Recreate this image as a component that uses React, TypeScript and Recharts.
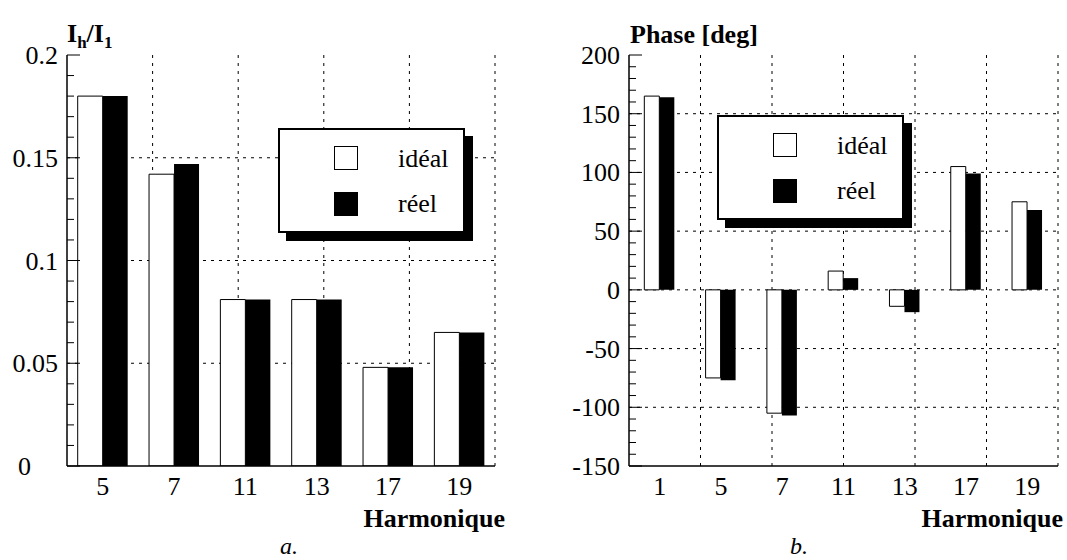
import React from 'react';
import { BarChart, Bar, XAxis, YAxis, CartesianGrid, Legend } from 'recharts';

const FONT = '"Liberation Serif", "Times New Roman", serif';

// a. amplitude des harmoniques
const harmA = ['5', '7', '11', '13', '17', '19'];
const idealA = [0.18, 0.142, 0.081, 0.081, 0.048, 0.065];
const reelA = [0.18, 0.147, 0.081, 0.081, 0.048, 0.065];
const yTicksA = [0, 0.05, 0.1, 0.15, 0.2];
const yLabelsA = ['0', '0.05', '0.1', '0.15', '0.2'];

// b. phase des harmoniques
const harmB = ['1', '5', '7', '11', '13', '17', '19'];
const idealB = [165, -75, -105, 16, -14, 105, 75];
const reelB = [164, -77, -107, 10, -19, 99, 68];
const yTicksB = [-150, -100, -50, 0, 50, 100, 150, 200];
const yLabelsB = ['-150', '-100', '-50', '0', '50', '100', '150', '200'];

const CHART_H = 560;
const PLOT_TOP = 55;
const PLOT_H = 411;
const AXIS_H = 60;
const MAJOR = 13;
const MINOR = 7;
const LINE = { stroke: '#000', strokeWidth: 1.5 };

function subdivide(majors: number[], n: number) {
  const out: number[] = [];
  for (let i = 0; i < majors.length - 1; i++) {
    const step = (majors[i + 1] - majors[i]) / n;
    for (let k = 0; k < n; k++) out.push(+(majors[i] + k * step).toFixed(6));
  }
  out.push(majors[majors.length - 1]);
  return out;
}

const isOn = (list: number[], v: number) => list.some((m) => Math.abs(m - v) < 1e-9);

const renderLegend = (props: any) => {
  const items = props.payload || [];
  return (
    <div
      style={{
        position: 'relative',
        width: 187,
        height: 105,
        boxSizing: 'border-box',
        border: '2px solid #000',
        background: '#fff',
        boxShadow: '8px 8px 0 #000',
        fontFamily: FONT,
      }}
    >
      {items.map((it: any, i: number) => (
        <React.Fragment key={it.value}>
          <div
            style={{
              position: 'absolute',
              left: 54,
              top: 16 + i * 46,
              width: 24,
              height: 24,
              boxSizing: 'border-box',
              border: '1.5px solid #000',
              background: it.color,
            }}
          />
          <div style={{ position: 'absolute', left: 118, top: 16 + i * 45, fontSize: 26, lineHeight: '26px', color: '#000' }}>
            {it.value}
          </div>
        </React.Fragment>
      ))}
    </div>
  );
};

interface PanelProps {
  left: number;
  width: number;
  yAxisWidth: number;
  marginRight: number;
  categories: string[];
  ideal: number[];
  reel: number[];
  yMajors: number[];
  yLabels: string[];
  gap: string;
  legendLeft: number;
  legendTop: number;
  zeroShift?: number;
}

const Panel: React.FC<PanelProps> = (p) => {
  const data = p.categories.map((h, i) => ({ h, ideal: p.ideal[i], reel: p.reel[i] }));
  const n = p.categories.length;
  const xMajors = Array.from({ length: n + 1 }, (_, i) => i);
  const xMinor = subdivide(xMajors, 5);
  const yMinor = subdivide(p.yMajors, 5);
  const yDomain = [p.yMajors[0], p.yMajors[p.yMajors.length - 1]];

  const catTick = (t: any) => (
    <text x={t.x} y={t.y + 29} textAnchor="middle" fontFamily={FONT} fontSize={26} fill="#000">
      {t.payload.value}
    </text>
  );

  const topTick = (t: any) => {
    const len = isOn(xMajors, t.payload.value) ? MAJOR : MINOR;
    return (
      <g>
        <line x1={t.x} x2={t.x} y1={t.y} y2={t.y + len} stroke="#000" />
        <line x1={t.x} x2={t.x} y1={t.y + PLOT_H} y2={t.y + PLOT_H - len} stroke="#000" />
      </g>
    );
  };

  const leftTick = (t: any) => {
    const v = t.payload.value;
    const idx = p.yMajors.findIndex((m) => Math.abs(m - v) < 1e-9);
    const len = idx >= 0 ? MAJOR : MINOR;
    const lx = t.x - 9 - (v === 0 && p.zeroShift ? p.zeroShift : 0);
    return (
      <g>
        <line x1={t.x} x2={t.x + len} y1={t.y} y2={t.y} stroke="#000" />
        {idx >= 0 && (
          <text x={lx} y={t.y + 9} textAnchor="end" fontFamily={FONT} fontSize={26} fill="#000">
            {p.yLabels[idx]}
          </text>
        )}
      </g>
    );
  };

  const rightTick = (t: any) => {
    const len = isOn(p.yMajors, t.payload.value) ? MAJOR : MINOR;
    return <line x1={t.x} x2={t.x - len} y1={t.y} y2={t.y} stroke="#000" />;
  };

  return (
    <div style={{ position: 'absolute', left: p.left, top: 0 }}>
      <BarChart
        width={p.width}
        height={CHART_H}
        data={data}
        margin={{ top: PLOT_TOP, right: p.marginRight, bottom: CHART_H - PLOT_TOP - PLOT_H - AXIS_H, left: 0 }}
        barCategoryGap={p.gap}
        barGap={0}
      >
        <CartesianGrid
          xAxisId="frame"
          yAxisId="y"
          verticalValues={xMajors.slice(1, -1)}
          horizontalValues={p.yMajors.slice(1, -1)}
          stroke="#000"
          strokeDasharray="3 5"
        />
        <XAxis
          xAxisId="cat"
          dataKey="h"
          orientation="bottom"
          height={AXIS_H}
          interval={0}
          tickSize={0}
          tickMargin={0}
          axisLine={LINE}
          tickLine={false}
          tick={catTick}
        />
        <XAxis
          xAxisId="frame"
          type="number"
          orientation="top"
          height={0}
          domain={[0, n]}
          allowDataOverflow
          ticks={xMinor}
          interval={0}
          tickSize={0}
          tickMargin={0}
          axisLine={LINE}
          tickLine={false}
          tick={topTick}
        />
        <YAxis
          yAxisId="y"
          type="number"
          width={p.yAxisWidth}
          domain={yDomain}
          allowDataOverflow
          ticks={yMinor}
          interval={0}
          tickSize={0}
          tickMargin={0}
          axisLine={LINE}
          tickLine={false}
          tick={leftTick}
        />
        <YAxis
          yAxisId="yr"
          type="number"
          orientation="right"
          width={0}
          domain={yDomain}
          allowDataOverflow
          ticks={yMinor}
          interval={0}
          tickSize={0}
          tickMargin={0}
          axisLine={LINE}
          tickLine={false}
          tick={rightTick}
        />
        <Bar xAxisId="cat" yAxisId="y" dataKey="ideal" name="idéal" fill="#fff" stroke="#000" strokeWidth={1} isAnimationActive={false} />
        <Bar xAxisId="cat" yAxisId="y" dataKey="reel" name="réel" fill="#000" isAnimationActive={false} />
        <Legend
          layout="vertical"
          align="center"
          verticalAlign="middle"
          wrapperStyle={{ left: p.legendLeft, top: p.legendTop, width: 187, height: 105 }}
          content={renderLegend}
        />
      </BarChart>
    </div>
  );
};

const App: React.FC = () => {
  return (
    <div style={{ position: 'absolute', left: 0, top: 0, width: 1067, height: 560, background: '#fff', overflow: 'hidden' }}>
      <Panel
        left={0}
        width={530}
        yAxisWidth={67}
        marginRight={35}
        categories={harmA}
        ideal={idealA}
        reel={reelA}
        yMajors={yTicksA}
        yLabels={yLabelsA}
        gap="15%"
        legendLeft={278}
        legendTop={128}
        zeroShift={27}
      />
      <Panel
        left={530}
        width={537}
        yAxisWidth={99}
        marginRight={9}
        categories={harmB}
        ideal={idealB}
        reel={reelB}
        yMajors={yTicksB}
        yLabels={yLabelsB}
        gap="25%"
        legendLeft={187}
        legendTop={115}
      />
      <svg width={1067} height={560} style={{ position: 'absolute', left: 0, top: 0, pointerEvents: 'none' }}>
        <g fontFamily={FONT} fill="#000">
          <text x={67} y={42} fontSize={26} fontWeight="bold">
            I<tspan dy={6} fontSize={17}>h</tspan>
            <tspan dy={-6}>/I</tspan>
            <tspan dy={6} fontSize={17}>1</tspan>
          </text>
          <text x={630} y={43} fontSize={26} fontWeight="bold">Phase [deg]</text>
          <text x={505} y={527} fontSize={26} fontWeight="bold" textAnchor="end">Harmonique</text>
          <text x={1063} y={527} fontSize={26} fontWeight="bold" textAnchor="end">Harmonique</text>
          <text x={280} y={554} fontSize={24} fontStyle="italic">a.</text>
          <text x={790} y={554} fontSize={24} fontStyle="italic">b.</text>
        </g>
      </svg>
    </div>
  );
};

export default App;
